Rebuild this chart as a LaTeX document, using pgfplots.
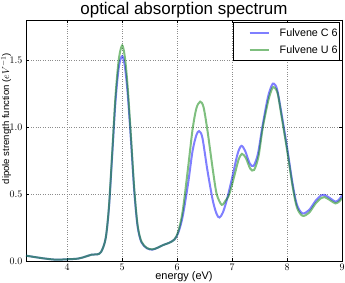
\documentclass[border=0pt]{standalone}
\usepackage{pgfplots}
\pgfplotsset{compat=1.18}
\usepackage{fontspec}
\setmainfont{Liberation Sans}
\usetikzlibrary{calc}
\definecolor{mplgreen}{rgb}{0,0.5,0}
\begin{document}
\begin{tikzpicture}
\begin{axis}[
  scale only axis,
  width=316bp, height=241bp,
  xmin=3.25, xmax=9, ymin=0, ymax=1.8,
  xtick={4,5,6,7,8,9},
  ytick={0,0.5,1.0,1.5},
  yticklabel style={/pgf/number format/fixed,/pgf/number format/fixed zerofill,/pgf/number format/precision=1},
  xticklabel style={/pgf/number format/fixed},
  tick label style={font=\fontsize{10}{11}\selectfont},
  tick align=inside, major tick length=3bp,
  tick style={black, line width=0.5pt},
  axis line style={black, line width=1pt},
  grid=major,
  major grid style={black!45, dotted, line width=0.5pt},
  every axis title shift=0pt,
  title={optical absorption spectrum},
  title style={at={(axis description cs:0.5,1)}, anchor=base, yshift=5bp, inner sep=0pt, font=\fontsize{17}{18}\selectfont},
  xlabel={energy (eV)},
  xlabel style={at={(axis description cs:0.5,0)}, anchor=base, yshift=-18bp, inner sep=0pt, font=\fontsize{11}{12}\selectfont},
  ylabel={dipole strength function ($eV^{-1}$)},
  ylabel style={at={(axis description cs:-0.063,0.591)}, anchor=center, inner sep=0pt, font=\fontsize{9.6}{11}\selectfont},
  legend style={at={(axis description cs:0.994,0.992)}, anchor=north east, draw=black, line width=0.8pt, font=\fontsize{10.8}{12}\selectfont, row sep=4pt, inner xsep=2pt, inner ysep=4pt, nodes={inner xsep=0pt}},
  legend cell align=left,
  legend image code/.code={\path[draw=none,fill=none] (-14bp,0bp) -- (30bp,0bp); \draw[#1] (0bp,0bp) -- (19bp,0bp);},
]
\addplot[blue, opacity=0.5, line width=2pt, smooth, tension=0.5] coordinates {
(3.25,0.04) (3.4,0.03) (3.6,0.018) (3.8,0.01) (4.0,0.013) (4.2,0.018) (4.35,0.035) (4.45,0.048) (4.55,0.05) (4.62,0.07) (4.7,0.17) (4.76,0.40) (4.82,0.80) (4.88,1.20) (4.94,1.45) (5.0,1.53) (5.05,1.45) (5.1,1.25) (5.16,0.90) (5.22,0.52) (5.28,0.26) (5.35,0.14) (5.45,0.095) (5.55,0.085) (5.65,0.10) (5.75,0.12) (5.85,0.135) (5.95,0.16) (6.02,0.21) (6.1,0.33) (6.2,0.58) (6.28,0.82) (6.35,0.94) (6.40,0.97) (6.46,0.92) (6.55,0.68) (6.65,0.45) (6.72,0.35) (6.77,0.325) (6.83,0.36) (6.9,0.45) (7.0,0.62) (7.1,0.80) (7.17,0.86) (7.24,0.82) (7.32,0.73) (7.39,0.71) (7.47,0.80) (7.55,1.0) (7.65,1.22) (7.72,1.31) (7.76,1.325) (7.82,1.28) (7.9,1.10) (8.0,0.85) (8.1,0.58) (8.18,0.42) (8.28,0.356) (8.4,0.38) (8.52,0.45) (8.62,0.49) (8.68,0.494) (8.78,0.47) (8.88,0.443) (8.95,0.46) (9.0,0.49)
};
\addlegendentry{Fulvene C 6\hspace{5bp}}
\addplot[mplgreen, opacity=0.5, line width=2pt, smooth, tension=0.5] coordinates {
(3.25,0.04) (3.4,0.03) (3.6,0.018) (3.8,0.01) (4.0,0.013) (4.2,0.018) (4.35,0.035) (4.45,0.048) (4.55,0.05) (4.62,0.07) (4.7,0.17) (4.76,0.41) (4.82,0.82) (4.88,1.24) (4.94,1.51) (5.0,1.61) (5.05,1.52) (5.1,1.30) (5.16,0.93) (5.22,0.54) (5.28,0.27) (5.35,0.145) (5.45,0.097) (5.55,0.087) (5.65,0.10) (5.75,0.12) (5.85,0.135) (5.95,0.16) (6.02,0.22) (6.1,0.37) (6.2,0.70) (6.28,0.98) (6.35,1.14) (6.42,1.19) (6.48,1.15) (6.55,0.98) (6.65,0.68) (6.72,0.50) (6.81,0.42) (6.88,0.45) (6.95,0.50) (7.05,0.65) (7.12,0.76) (7.18,0.80) (7.25,0.77) (7.33,0.69) (7.40,0.68) (7.48,0.78) (7.56,1.0) (7.66,1.20) (7.73,1.29) (7.77,1.296) (7.83,1.25) (7.9,1.08) (8.0,0.83) (8.1,0.56) (8.18,0.40) (8.28,0.338) (8.4,0.36) (8.52,0.43) (8.62,0.47) (8.68,0.478) (8.78,0.455) (8.88,0.43) (8.95,0.445) (9.0,0.47)
};
\addlegendentry{Fulvene U 6\hspace{5bp}}
\end{axis}
\pgfresetboundingbox
\path[use as bounding box] ($(current axis.south west)+(-26bp,-22bp)$) rectangle ($(current axis.north east)+(3bp,20bp)$);
\end{tikzpicture}
\end{document}
